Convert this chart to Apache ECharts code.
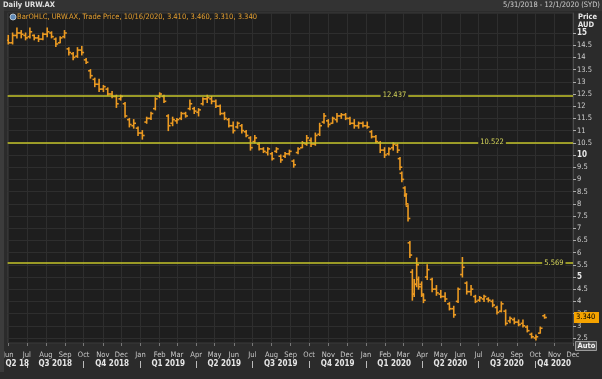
<!DOCTYPE html>
<html><head><meta charset="utf-8">
<script src="https://cdn.jsdelivr.net/npm/echarts@6/dist/echarts.min.js"></script>
<style>html,body{margin:0;padding:0;background:#2b2b2b;overflow:hidden}#c{width:602px;height:379px}</style>
</head><body><div id="c"></div>
<script>
// ---- data ----
const dates = ['2018-06-01','2018-06-08','2018-06-15','2018-06-22','2018-06-29','2018-07-06','2018-07-13','2018-07-20','2018-07-27','2018-08-03','2018-08-10','2018-08-17','2018-08-24','2018-08-31','2018-09-07','2018-09-14','2018-09-21','2018-09-28','2018-10-05','2018-10-12','2018-10-19','2018-10-26','2018-11-02','2018-11-09','2018-11-16','2018-11-23','2018-11-30','2018-12-07','2018-12-14','2018-12-21','2018-12-28','2019-01-04','2019-01-11','2019-01-18','2019-01-25','2019-02-01','2019-02-08','2019-02-15','2019-02-22','2019-03-01','2019-03-08','2019-03-15','2019-03-22','2019-03-29','2019-04-05','2019-04-12','2019-04-19','2019-04-26','2019-05-03','2019-05-10','2019-05-17','2019-05-24','2019-05-31','2019-06-07','2019-06-14','2019-06-21','2019-06-28','2019-07-05','2019-07-12','2019-07-19','2019-07-26','2019-08-02','2019-08-09','2019-08-16','2019-08-23','2019-08-30','2019-09-06','2019-09-13','2019-09-20','2019-09-27','2019-10-04','2019-10-11','2019-10-18','2019-10-25','2019-11-01','2019-11-08','2019-11-15','2019-11-22','2019-11-29','2019-12-06','2019-12-13','2019-12-20','2019-12-27','2020-01-03','2020-01-10','2020-01-17','2020-01-24','2020-01-31','2020-02-07','2020-02-14','2020-02-21','2020-02-25','2020-02-28','2020-03-04','2020-03-06','2020-03-09','2020-03-12','2020-03-16','2020-03-19','2020-03-23','2020-03-26','2020-03-31','2020-04-03','2020-04-09','2020-04-17','2020-04-24','2020-05-01','2020-05-08','2020-05-15','2020-05-22','2020-05-29','2020-06-05','2020-06-12','2020-06-19','2020-06-26','2020-07-03','2020-07-10','2020-07-17','2020-07-24','2020-07-31','2020-08-07','2020-08-14','2020-08-21','2020-08-28','2020-09-04','2020-09-11','2020-09-18','2020-09-25','2020-10-02','2020-10-09','2020-10-16'];
const opens = [14.7,14.6,14.9,15.0,14.9,14.85,14.9,14.8,14.75,14.95,15.0,14.75,14.6,14.85,14.35,14.15,14.05,14.3,13.9,13.45,13.1,12.9,12.7,12.7,12.5,12.4,12.3,12.1,11.45,11.2,11.1,10.9,11.35,11.5,11.9,12.4,12.4,11.6,11.3,11.4,11.5,11.7,11.9,11.9,11.75,12.1,12.3,12.3,12.2,12.0,11.7,11.45,11.2,11.15,11.2,10.95,10.7,10.55,10.45,10.25,10.1,10.05,10.15,9.95,9.95,10.05,9.75,10.1,10.3,10.45,10.6,10.45,10.85,11.35,11.4,11.3,11.45,11.6,11.65,11.5,11.3,11.2,11.3,11.2,10.95,10.75,10.5,10.2,10.05,10.3,10.4,9.85,9.25,8.65,8.35,7.9,6.4,5.2,4.3,4.7,4.9,4.7,4.25,5.0,4.9,4.5,4.3,4.2,3.9,3.7,4.0,5.1,4.75,4.4,4.2,4.05,4.1,4.1,4.0,3.75,3.6,3.6,3.2,3.25,3.15,3.1,2.95,2.65,2.5,2.7,3.41];
const highs = [14.9,15.0,15.2,15.1,15.0,15.2,14.92,14.9,15.0,15.2,15.05,14.8,14.85,15.1,14.4,14.2,14.4,14.45,13.95,13.5,13.15,13.1,12.85,12.75,12.6,12.45,12.45,12.15,11.5,11.45,11.15,11.0,11.55,11.75,12.35,12.55,12.45,11.65,11.55,11.5,11.75,11.75,12.25,11.95,11.9,12.35,12.45,12.4,12.25,12.05,11.75,11.5,11.35,11.35,11.25,11.0,10.75,10.8,10.5,10.3,10.3,10.1,10.3,10.0,10.1,10.2,9.8,10.3,10.55,10.8,10.7,10.9,11.3,11.7,11.45,11.55,11.7,11.7,11.7,11.55,11.45,11.35,11.35,11.35,11.0,10.8,10.55,10.3,10.3,10.5,10.45,9.9,9.3,8.7,8.4,7.95,6.45,5.3,4.9,5.78,5.0,4.8,4.3,5.5,4.95,4.65,4.45,4.35,3.95,3.8,4.55,5.8,4.8,4.65,4.25,4.2,4.25,4.15,4.06,3.8,3.98,3.65,3.36,3.32,3.24,3.24,3.0,2.7,2.62,2.95,3.46];
const lows = [14.55,14.55,14.8,14.8,14.72,14.8,14.72,14.65,14.72,14.85,14.8,14.45,14.6,14.8,14.1,13.9,14.0,14.1,13.75,13.15,12.8,12.6,12.6,12.45,12.35,11.95,12.25,11.55,11.15,11.1,10.8,10.65,11.3,11.45,11.85,12.35,12.15,11.0,11.2,11.3,11.45,11.55,11.85,11.7,11.6,12.05,12.15,12.1,11.95,11.65,11.45,11.15,10.9,11.1,10.9,10.75,10.2,10.5,10.2,10.1,10.0,9.8,10.1,9.7,9.9,10.0,9.5,10.05,10.3,10.4,10.35,10.4,10.8,11.3,11.15,11.3,11.35,11.5,11.45,11.25,11.1,11.1,11.15,11.1,10.7,10.5,10.1,9.9,10.0,10.2,10.1,9.4,8.9,8.3,7.95,7.3,5.8,4.05,4.2,4.6,4.5,4.2,3.95,4.9,4.4,4.25,4.15,4.0,3.65,3.35,3.95,5.0,4.3,4.25,3.95,4.0,4.0,3.98,3.78,3.48,3.57,3.03,3.12,3.08,3.0,2.95,2.75,2.5,2.42,2.7,3.31];
const closes = [14.6,14.9,15.0,14.95,14.8,15.05,14.8,14.75,14.95,15.05,14.85,14.55,14.8,15.0,14.2,14.0,14.3,14.2,13.8,13.25,12.9,12.7,12.8,12.5,12.4,12.1,12.4,11.6,11.25,11.3,10.9,10.8,11.5,11.7,12.3,12.5,12.2,11.2,11.45,11.45,11.7,11.6,12.1,11.8,11.85,12.3,12.35,12.2,12.0,11.7,11.5,11.2,11.0,11.3,11.0,10.8,10.3,10.7,10.25,10.15,10.25,9.85,10.25,9.8,10.05,10.15,9.6,10.25,10.5,10.7,10.45,10.8,11.2,11.6,11.25,11.5,11.6,11.65,11.5,11.3,11.2,11.3,11.2,11.15,10.75,10.55,10.2,10.0,10.25,10.45,10.2,9.5,9.0,8.4,8.0,7.4,5.9,4.3,4.7,5.5,4.6,4.3,4.05,5.3,4.5,4.35,4.2,4.1,3.7,3.45,4.5,5.4,4.4,4.5,4.0,4.15,4.2,4.05,3.85,3.55,3.9,3.1,3.3,3.15,3.05,3.0,2.8,2.55,2.55,2.9,3.34];
const levels = [12.437, 10.522, 5.569];
const levelLabelDates = ['2020-02-16', '2020-07-23', '2020-10-31'];
const yTicks = [2.5,3,3.5,4,4.5,5,5.5,6,6.5,7,7.5,8,8.5,9,9.5,10,10.5,11,11.5,12,12.5,13,13.5,14,14.5,15];
const monthNames = ['Jan','Feb','Mar','Apr','May','Jun','Jul','Aug','Sep','Oct','Nov','Dec'];
const quarterLabels = ['Q2 18','Q3 2018','Q4 2018','Q1 2019','Q2 2019','Q3 2019','Q4 2019','Q1 2020','Q2 2020','Q3 2020','Q4 2020'];
const quarterBounds = ['2018-05-31','2018-07-01','2018-10-01','2019-01-01','2019-04-01','2019-07-01','2019-10-01','2020-01-01','2020-04-01','2020-07-01','2020-10-01','2020-12-01'];
const rangeStart = '2018-05-31', rangeEnd = '2020-12-01';
const rangeText = '5/31/2018 - 12/1/2020 (SYD)';
const lastBar = {date:'10/16/2020', open:3.410, high:3.460, low:3.310, close:3.340};

// ---- derived ----
const ts = s => Date.parse(s);
const FONT = "'Liberation Sans Narrow','DejaVu Sans Condensed','Liberation Sans',sans-serif";
const ORANGE = '#eb9a22';
const barData = dates.map((d,i)=>[ts(d), opens[i], highs[i], lows[i], closes[i]]);
const monthStarts = [];
for (let y=2018, m=5; !(y===2020 && m>11); ) { monthStarts.push(Date.UTC(y,m,1)); m++; if (m>11){m=0;y++;} if (y>2020) break; }
const quarterMids = quarterLabels.map((q,i)=>(ts(quarterBounds[i])+ts(quarterBounds[i+1]))/2);
const quarterSeps = quarterBounds.slice(1,-1).map(ts);
const yMin = 2.5 - 5/24.4, yMax = 15 + 20/24.4;

const chart = echarts.init(document.getElementById('c'));
const xBase = {type:'value', min:ts(rangeStart), max:ts(rangeEnd), position:'bottom', gridIndex:0};
chart.setOption({
  backgroundColor:'#2b2b2b',
  animation:false,
  grid:{left:5, right:29, top:13, bottom:36, show:true, backgroundColor:'#1e1e1e', borderColor:'#3a3a3a', borderWidth:1},
  xAxis:[
    Object.assign({}, xBase, {
      axisLine:{show:false},
      axisTick:{show:true, customValues:monthStarts, length:3, lineStyle:{color:'#777'}},
      axisLabel:{customValues:monthStarts, margin:8, color:'#c8c8c8', fontFamily:FONT, fontSize:7.5,
        formatter:v=>monthNames[new Date(v).getUTCMonth()]},
      splitLine:{show:true, lineStyle:{color:'#2e2e2e', width:1}}
    }),
    Object.assign({}, xBase, {
      offset:9, axisLine:{show:false}, axisTick:{show:false}, splitLine:{show:false},
      axisLabel:{customValues:quarterMids, margin:8, color:'#e6e6e6', fontWeight:'bold', fontFamily:FONT, fontSize:8,
        formatter:v=>{let b=0,bd=Infinity;quarterMids.forEach((m,i)=>{const d=Math.abs(m-v);if(d<bd){bd=d;b=i;}});return quarterLabels[b];}}
    }),
    Object.assign({}, xBase, {
      offset:18, axisLine:{show:false}, splitLine:{show:false}, axisLabel:{show:false},
      axisTick:{show:true, customValues:quarterSeps, length:7, lineStyle:{color:'#bbb', width:1}}
    })
  ],
  yAxis:[
    {type:'value', position:'right', min:yMin, max:yMax,
     axisLine:{show:true, lineStyle:{color:'#4a4a4a'}},
     axisTick:{show:true, customValues:yTicks, length:3, lineStyle:{color:'#aaa'}},
     axisLabel:{customValues:yTicks, margin:4, color:'#cfcfcf', fontFamily:FONT, fontSize:7.5,
       formatter:v=>(v%5===0?'{b|'+v+'}':String(v)), rich:{b:{fontWeight:'bold', color:'#e8e8e8', fontFamily:FONT, fontSize:8}}},
     splitLine:{show:true, lineStyle:{color:'#2e2e2e', width:1}}
    },
    {type:'value', position:'right', min:yMin, max:yMax,
     axisLine:{show:false}, axisTick:{show:false}, splitLine:{show:false},
     axisLabel:{customValues:[lastBar.close], margin:1, color:'#000', backgroundColor:'#f5a300', padding:[2,3,1,2], width:20,
       fontFamily:FONT, fontSize:7.5, formatter:()=>lastBar.close.toFixed(3)}
    }
  ],
  series:[{
    type:'custom', xAxisIndex:0, yAxisIndex:0, clip:true,
    data:barData, encode:{x:0, y:[1,2,3,4]},
    renderItem:(params, api)=>{
      const t = api.value(0);
      const h = api.coord([t, api.value(2)]), l = api.coord([t, api.value(3)]);
      const o = api.coord([t, api.value(1)]), c = api.coord([t, api.value(4)]);
      const st = {stroke:ORANGE, lineWidth:1.6};
      return {type:'group', children:[
        {type:'line', shape:{x1:h[0], y1:h[1]-0.5, x2:l[0], y2:l[1]+0.5}, style:st},
        {type:'line', shape:{x1:o[0]-2.3, y1:o[1], x2:o[0], y2:o[1]}, style:st},
        {type:'line', shape:{x1:c[0], y1:c[1], x2:c[0]+2.3, y2:c[1]}, style:st}
      ]};
    },
    markLine:{silent:true, symbol:['none','none'], label:{show:false},
      lineStyle:{color:'#c4c42a', width:1.5, type:'solid'},
      data:levels.map(v=>({yAxis:v}))},
    markPoint:{silent:true, symbol:'rect', symbolSize:0,
      label:{show:true, position:'inside', color:'#d6d65a', fontFamily:FONT, fontSize:7.5, backgroundColor:'#1e1e1e', padding:[1,2]},
      data:levels.map((v,i)=>({coord:[ts(levelLabelDates[i]), v], value:v.toFixed(3)}))}
  }],
  graphic:[
    {type:'rect', shape:{x:0,y:0,width:602,height:11}, style:{fill:'#333'}, z:10},
    {type:'rect', shape:{x:0,y:0,width:4,height:379}, style:{fill:'#3c3c3c'}, z:10},
    {type:'text', left:3, top:1, style:{text:'Daily URW.AX', fill:'#e0e0e0', font:"bold 7.5px "+FONT}, z:11},
    {type:'text', right:2, top:1.5, style:{text:rangeText, fill:'#cfcfcf', font:"7.5px "+FONT}, z:11},
    {type:'circle', shape:{cx:13, cy:17, r:3}, style:{fill:'#5f88b5', stroke:'#cfd8e0', lineWidth:0.8}, z:11},
    {type:'text', left:17, top:13.5, style:{text:'BarOHLC, URW.AX, Trade Price, '+lastBar.date+', '+[lastBar.open,lastBar.high,lastBar.low,lastBar.close].map(v=>v.toFixed(3)).join(', '), fill:'#e6a030', font:"7.5px "+FONT}, z:11},
    {type:'text', left:578, top:13, style:{text:'Price', fill:'#e8e8e8', font:"bold 7.5px "+FONT}, z:11},
    {type:'text', left:578, top:21.5, style:{text:'AUD', fill:'#e8e8e8', font:"bold 7.5px "+FONT}, z:11},
    {type:'rect', shape:{x:575.5,y:341.5,width:21,height:9}, style:{fill:'#505050', stroke:'#9a9a9a', lineWidth:1}, z:11},
    {type:'text', left:577.5, top:342, style:{text:'Auto', fill:'#f0f0f0', font:"bold 7.5px "+FONT}, z:12},
    {type:'rect', shape:{x:0,y:372,width:602,height:7}, style:{fill:'#2b2b2b'}, z:10}
  ]
});
</script></body></html>
